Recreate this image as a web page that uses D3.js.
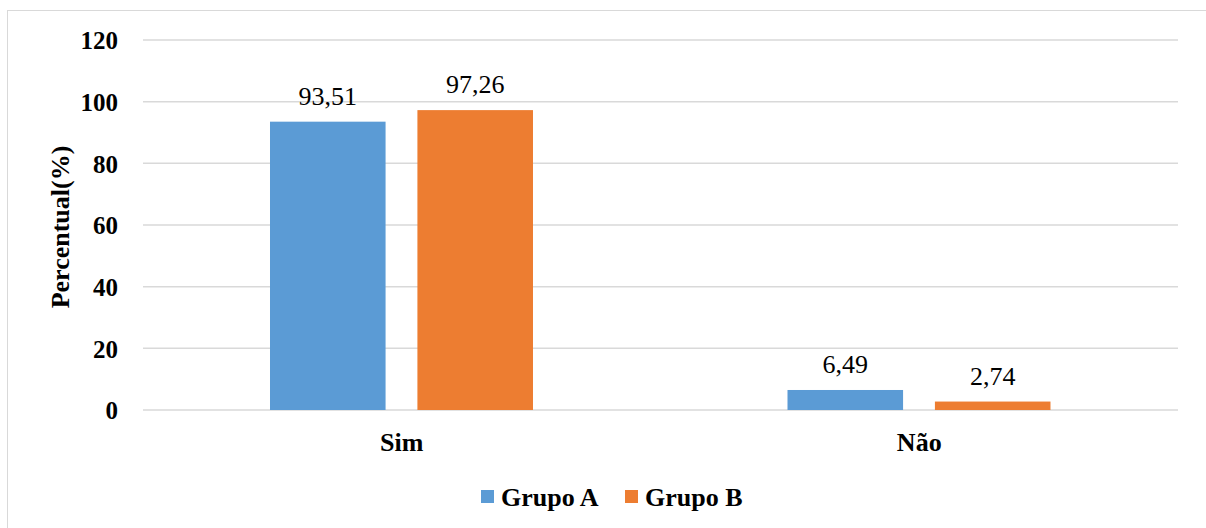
<!DOCTYPE html>
<html><head><meta charset="utf-8">
<script src="https://cdn.jsdelivr.net/npm/d3@7"></script>
<style>body{margin:0;background:#fff}svg{display:block}</style>
</head><body>
<svg id="c" width="1206" height="528"></svg>
<script>
const categories = ["Sim", "Não"];
const seriesNames = ["Grupo A", "Grupo B"];
const grupoA = [93.51, 6.49];
const grupoB = [97.26, 2.74];
const yTicks = [0, 20, 40, 60, 80, 100, 120];
const colors = ["#5B9BD5", "#ED7D31"];
const fmt = v => v.toFixed(2).replace(".", ",");

const svg = d3.select("#c");
const font = "Liberation Serif, Times New Roman, serif";
svg.append("rect").attr("x",7.5).attr("y",10.5).attr("width",1205).attr("height",530)
  .attr("fill","#fff").attr("stroke","#d9d9d9").attr("stroke-width",1);

const x0 = d3.scaleBand().domain(categories).range([143,1178]);
const bw = x0.bandwidth();
const x1 = d3.scaleBand().domain(seriesNames).range([0.2454*bw, 0.7536*bw]).paddingInner(0.216).paddingOuter(0);
const y = d3.scaleLinear().domain([0,120]).range([410,40]);

svg.append("g").selectAll("line").data(yTicks).join("line")
  .attr("x1",143).attr("x2",1178).attr("y1",d=>y(d)).attr("y2",d=>y(d))
  .attr("stroke","#d9d9d9").attr("stroke-width",1.5);

const yAxis = svg.append("g").attr("transform","translate(143,0)")
  .call(d3.axisLeft(y).tickValues(yTicks).tickSize(0).tickPadding(25));
yAxis.select(".domain").remove();
yAxis.selectAll("text").attr("font-family",font).attr("font-size",25).attr("font-weight","bold").attr("fill","#000").attr("dy","0.35em");

const data = categories.map((c,i)=>({c, vals:[grupoA[i], grupoB[i]]}));
const g = svg.append("g").selectAll("g").data(data).join("g")
  .attr("transform",d=>`translate(${x0(d.c)},0)`);
g.selectAll("rect").data(d=>d.vals.map((v,j)=>({v, s:seriesNames[j], j}))).join("rect")
  .attr("x",d=>x1(d.s)).attr("width",x1.bandwidth())
  .attr("y",d=>y(d.v)).attr("height",d=>y(0)-y(d.v)).attr("fill",d=>colors[d.j]);
g.selectAll("text").data(d=>d.vals.map((v,j)=>({v, s:seriesNames[j]}))).join("text")
  .attr("x",d=>x1(d.s)+x1.bandwidth()/2).attr("y",d=>y(d.v)-17)
  .attr("text-anchor","middle").attr("font-family",font).attr("font-size",26).attr("fill","#000")
  .text(d=>fmt(d.v));

const xAxis = svg.append("g").attr("transform","translate(0,410)")
  .call(d3.axisBottom(x0).tickSize(0));
xAxis.select(".domain").remove();
xAxis.selectAll("text").attr("y",41).attr("dy",0).attr("font-family",font).attr("font-size",26).attr("font-weight","bold").attr("fill","#000");

svg.append("text").attr("transform","translate(69,227) rotate(-90)").attr("text-anchor","middle")
  .attr("font-family",font).attr("font-size",26).attr("font-weight","bold").text("Percentual(%)");

const leg = svg.append("g");
const legX = [481, 625];
seriesNames.forEach((s,i)=>{
  leg.append("rect").attr("x",legX[i]).attr("y",490).attr("width",13).attr("height",13).attr("fill",colors[i]);
  leg.append("text").attr("x",legX[i]+20).attr("y",506).attr("font-family",font).attr("font-size",26)
    .attr("font-weight","bold").text(s);
});
</script>
</body></html>
